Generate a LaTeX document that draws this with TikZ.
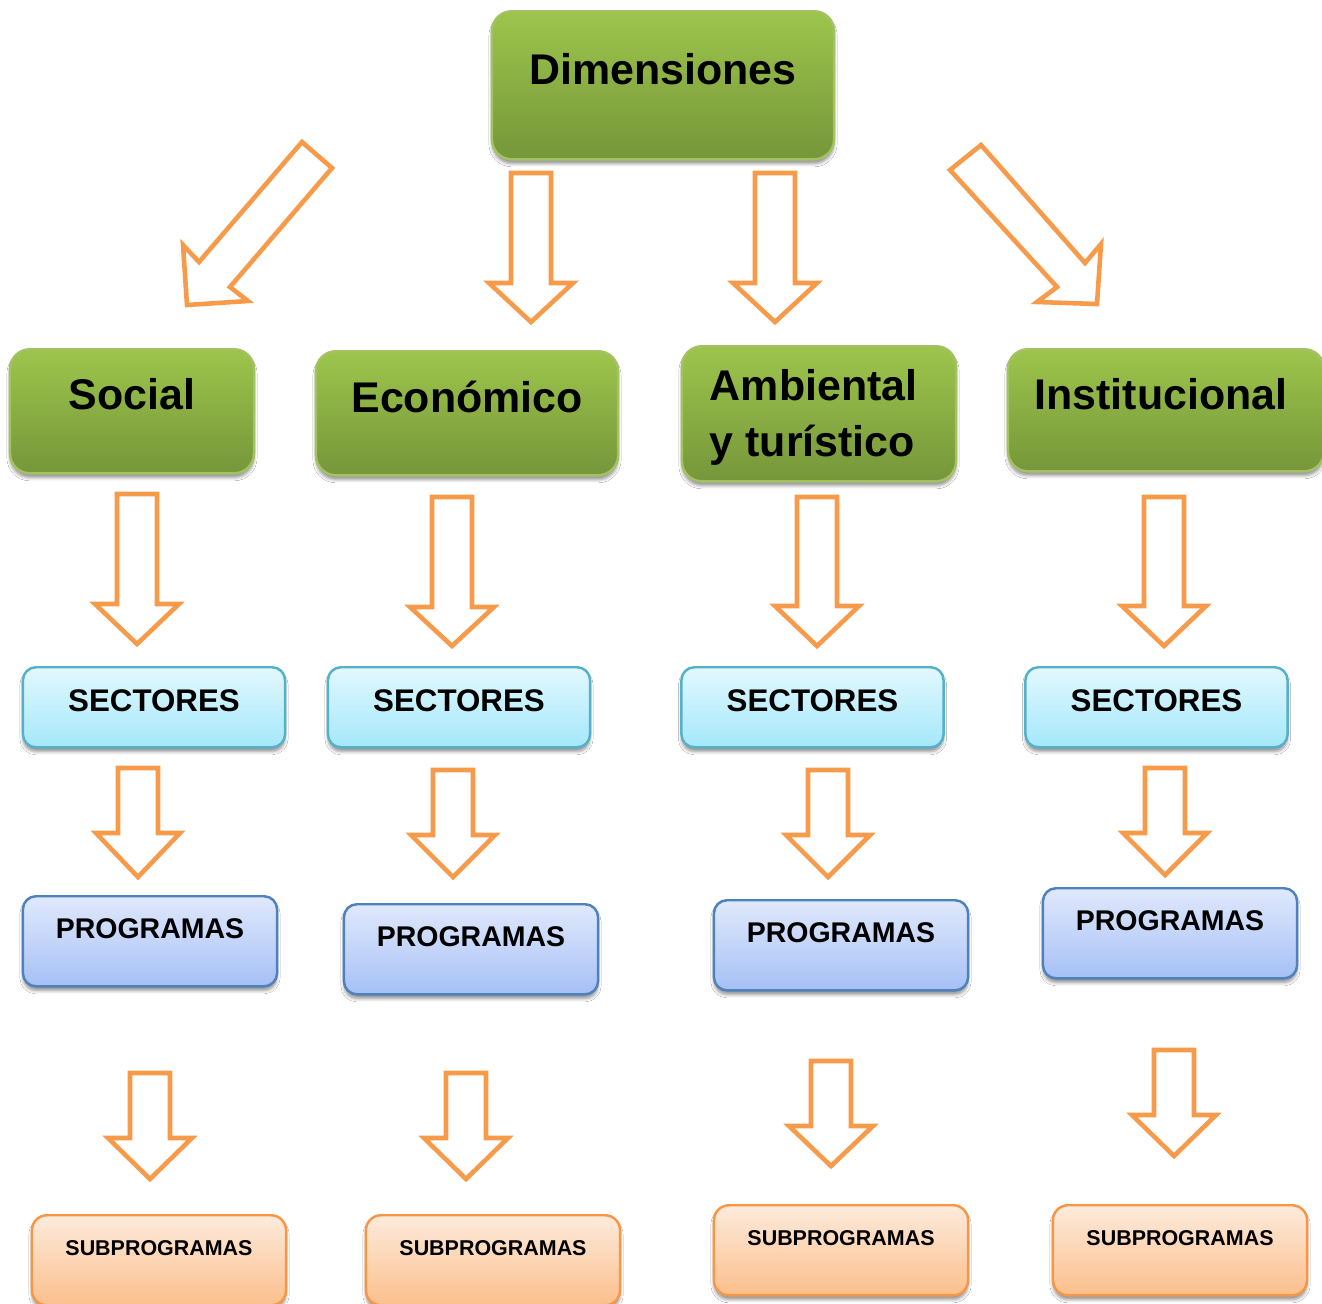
\documentclass[tikz,border=0pt]{standalone}
\usepackage{fontspec}
\setmainfont{Liberation Sans}
\usetikzlibrary{shadows.blur}
\definecolor{gTop}{HTML}{9DC54C}
\definecolor{gBot}{HTML}{76963A}
\definecolor{gLine}{HTML}{A3C262}
\definecolor{sTop}{HTML}{E2F8FD}
\definecolor{sBot}{HTML}{A4E8FB}
\definecolor{sLine}{HTML}{55B1C9}
\definecolor{pTop}{HTML}{E0E9FC}
\definecolor{pBot}{HTML}{A6C0F5}
\definecolor{pLine}{HTML}{4F81BD}
\definecolor{uTop}{HTML}{FDEBDC}
\definecolor{uBot}{HTML}{FBBF8C}
\definecolor{uLine}{HTML}{F79646}
\definecolor{aLine}{HTML}{F79A4A}
\tikzset{
  boxbase/.style={inner sep=0pt, anchor=north, align=center,
    blur shadow={shadow xshift=0cm, shadow yshift=-0.045cm, shadow blur radius=0.03cm, shadow opacity=40}},
  greenbox/.style={boxbase, rounded corners=0.2cm, draw=gLine, line width=0.7pt,
    top color=gTop, bottom color=gBot, font=\fontsize{12.2}{16}\selectfont\bfseries},
  secbox/.style={boxbase, rounded corners=0.13cm, draw=sLine, line width=0.7pt,
    top color=sTop, bottom color=sBot, minimum width=2.62cm,
    text height=0.44cm, text depth=0.36cm, font=\fontsize{8.9}{10}\selectfont\bfseries},
  progbox/.style={boxbase, rounded corners=0.13cm, draw=pLine, line width=0.7pt,
    top color=pTop, bottom color=pBot, minimum width=2.54cm,
    text height=0.42cm, text depth=0.48cm, font=\fontsize{8.1}{10}\selectfont\bfseries},
  subbox/.style={boxbase, rounded corners=0.15cm, draw=uLine, line width=0.7pt,
    top color=uTop, bottom color=uBot, minimum width=2.54cm,
    text height=0.40cm, text depth=0.50cm, font=\fontsize{6.1}{8}\selectfont\bfseries},
  blockarrow/.style={draw=aLine, fill=white, line width=1.3pt, line join=miter}
}
\newcommand\myDownArrow[4]{%
  \draw[blockarrow] ({#1-20},#2) -- ({#1+20},#2) -- ({#1+20},#3) -- ({#1+42},#3)
    -- (#1,#4) -- ({#1-42},#3) -- ({#1-20},#3) -- cycle;}
\begin{document}
\begin{tikzpicture}[x=0.01cm,y=-0.01cm]
\useasboundingbox[fill=white] (0,0) rectangle (1322,1303);

% top
\node[greenbox, minimum width=3.42cm, text height=0.73cm, text depth=0.75cm] (dim) at (663,10) {Dimensiones};

% dimensions
\node[greenbox, minimum width=2.44cm, text height=0.60cm, text depth=0.64cm] (soc) at (132,348) {Social};
\node[greenbox, minimum width=3.02cm, text height=0.61cm, text depth=0.63cm] (eco) at (467,350) {Económico};
\node[greenbox, text width=2.18cm, inner xsep=0.28cm, align=flush left, text height=0.54cm, text depth=0.81cm] (amb) at (819,345) {Ambiental\\y turístico};
\node[greenbox, minimum width=3.16cm, text height=0.60cm, text depth=0.62cm] (ins) at (1166,348) {Institucional\hspace*{0.1cm}};

% sectores
\node[secbox] (sec1) at (154,666) {SECTORES};
\node[secbox] (sec2) at (459,666) {SECTORES};
\node[secbox] (sec3) at (812.5,666) {SECTORES};
\node[secbox] (sec4) at (1156.5,666) {SECTORES};

% programas
\node[progbox] (pro1) at (150,895) {PROGRAMAS};
\node[progbox] (pro2) at (471,903) {PROGRAMAS};
\node[progbox] (pro3) at (841,899) {PROGRAMAS};
\node[progbox] (pro4) at (1170,887) {PROGRAMAS};

% subprogramas
\node[subbox] (sub1) at (159,1214) {SUBPROGRAMAS};
\node[subbox] (sub2) at (493,1214) {SUBPROGRAMAS};
\node[subbox] (sub3) at (841,1204) {SUBPROGRAMAS};
\node[subbox] (sub4) at (1180,1204) {SUBPROGRAMAS};

% diagonal arrows
\draw[blockarrow] (302,142) -- (332,168) -- (230,287) -- (248,301) -- (187,305) -- (183,245) -- (199,262) -- cycle;
\draw[blockarrow] (981,145) -- (1085,263) -- (1101,244) -- (1097,304) -- (1037,302) -- (1057,287) -- (950,170) -- cycle;

% row 1
\myDownArrow{531}{173}{283}{322}
\myDownArrow{775}{173}{283}{322}
% row 2
\myDownArrow{137}{494}{604}{644}
\myDownArrow{452}{497}{607}{646}
\myDownArrow{817}{497}{606}{646}
\myDownArrow{1164}{497}{606}{646}
% row 3
\myDownArrow{138}{768}{833}{877}
\myDownArrow{453}{770}{835}{877}
\myDownArrow{828}{770}{835}{877}
\myDownArrow{1165}{768}{833}{875}
% row 4
\myDownArrow{150}{1073}{1138}{1179}
\myDownArrow{466}{1073}{1138}{1179}
\myDownArrow{831}{1061}{1126}{1166}
\myDownArrow{1174}{1050}{1115}{1156}
\end{tikzpicture}
\end{document}
